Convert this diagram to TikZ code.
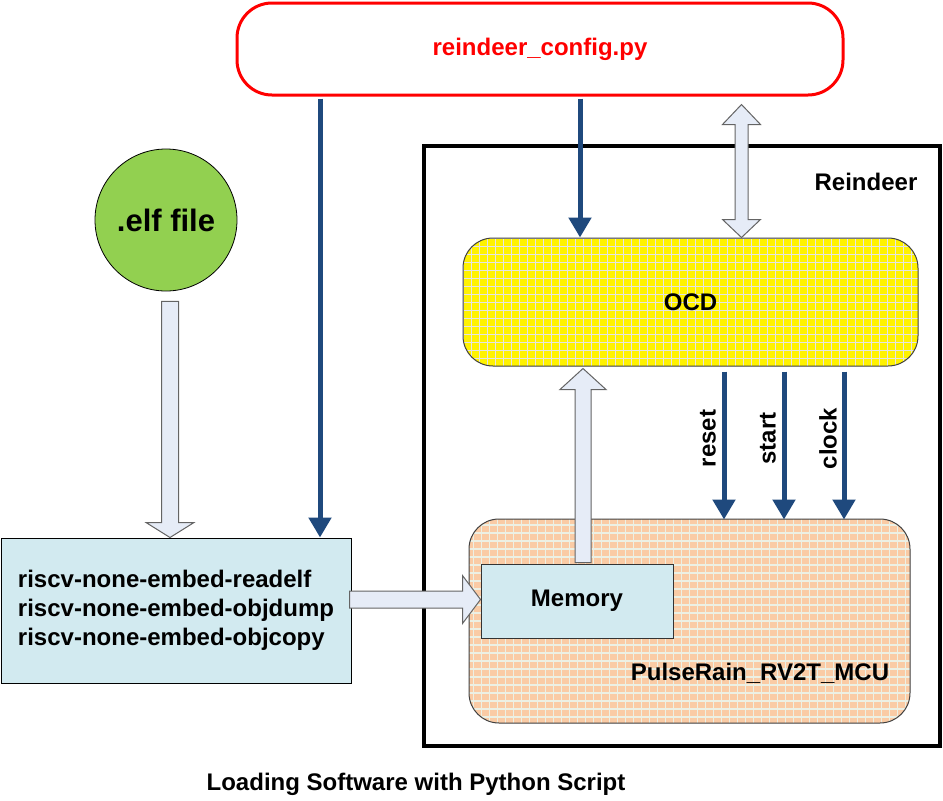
\documentclass[tikz,border=0pt]{standalone}
\usepackage{fontspec}
\setmainfont{Liberation Sans}
\usetikzlibrary{arrows.meta,calc}
\definecolor{darkblue}{RGB}{31,73,125}
\definecolor{toolblue}{RGB}{210,234,240}
\definecolor{elfgreen}{RGB}{146,208,80}
\definecolor{peach}{RGB}{250,203,165}
\definecolor{gridpeach}{RGB}{236,240,228}
\definecolor{gridyellow}{RGB}{228,228,228}
\definecolor{blockfill}{RGB}{230,236,247}
\definecolor{blockedge}{RGB}{100,100,100}
\begin{document}
\begin{tikzpicture}[x=1pt,y=-1pt,
  every node/.style={font=\fontsize{24}{29}\selectfont\bfseries, inner sep=0pt},
  gridbox/.style 2 args={draw=black!75, line width=1pt, rounded corners=30pt, fill=#1,
    path picture={\draw[#2, line width=1.3pt] (path picture bounding box.south west) grid[step=8pt] (path picture bounding box.north east);}},
  sig/.style={draw=darkblue, line width=5pt, -{Triangle[width=22pt,length=20pt]}},
  blk/.style={fill=blockfill, draw=blockedge, line width=1pt, line join=miter},
  siglabel/.style={rotate=90}
]
\useasboundingbox (0,0) rectangle (943,801);

% outer Reindeer box
\node[draw, line width=4pt, minimum width=516pt, minimum height=600pt] (rd) at (682,446) {};
\node (rdlabel) at (866,182) {Reindeer};

% config script
\node[draw=red, line width=3pt, rounded corners=35pt, minimum width=606pt, minimum height=92pt, text=red] (cfg) at (540,49) {reindeer\_config.py};

% OCD and MCU
\node[gridbox={yellow}{gridyellow}, minimum width=455pt, minimum height=128pt] (ocd) at (690.5,302) {OCD};
\node[gridbox={peach}{gridpeach}, minimum width=441pt, minimum height=204pt] (mcu) at (689.5,621) {};
\node (mculabel) at (760,673) {PulseRain\_RV2T\_MCU};
\node[draw=black!80, line width=1pt, fill=toolblue, minimum width=192pt, minimum height=74pt] (mem) at (577,601) {Memory};

% tools and elf
\node[draw, line width=1pt, fill=toolblue, minimum width=350pt, minimum height=145pt, align=left] (tools) at (176,610.5) {riscv-none-embed-readelf\\riscv-none-embed-objdump\\riscv-none-embed-objcopy};
\node[circle, draw, line width=0.8pt, fill=elfgreen, minimum size=142pt, font=\fontsize{31}{36}\selectfont\bfseries] (elf) at (166,220) {.elf file};

\node (caption) at (416,784) {Loading Software with Python Script};

% block arrow elf -> tools
\coordinate (b1s) at ($(elf.south)+(4,10)$);
\coordinate (b1e) at (b1s |- tools.north);
\draw[blk] ($(b1s)+(-8.5,0)$) -- ($(b1s)+(8.5,0)$) -- ($(b1e)+(8.5,-15)$) -- ($(b1e)+(24,-15)$) -- (b1e) -- ($(b1e)+(-24,-15)$) -- ($(b1e)+(-8.5,-15)$) -- cycle;

% block arrow tools -> memory
\coordinate (b2s) at ($(tools.east)+(-2,-11)$);
\coordinate (b2e) at (b2s -| mem.west);
\draw[blk] ($(b2s)+(0,-8.5)$) -- ($(b2e)+(-18,-8.5)$) -- ($(b2e)+(-18,-24)$) -- (b2e) -- ($(b2e)+(-18,24)$) -- ($(b2e)+(-18,8.5)$) -- ($(b2s)+(0,8.5)$) -- cycle;

% block arrow memory -> OCD
\coordinate (b3s) at ($(mem.north)+(6,-1)$);
\coordinate (b3e) at ($(b3s |- ocd.south)+(0,2)$);
\draw[blk] ($(b3s)+(-8,0)$) -- ($(b3e)+(-8,21)$) -- ($(b3e)+(-23,21)$) -- (b3e) -- ($(b3e)+(23,21)$) -- ($(b3e)+(8,21)$) -- ($(b3s)+(8,0)$) -- cycle;

% double block arrow cfg <-> OCD
\coordinate (b4t) at ($(cfg.south)+(201.5,8)$);
\coordinate (b4b) at (b4t |- ocd.north);
\draw[blk] (b4t) -- ($(b4t)+(19,20)$) -- ($(b4t)+(6.5,20)$) -- ($(b4b)+(6.5,-18)$) -- ($(b4b)+(19,-18)$) -- (b4b) -- ($(b4b)+(-19,-18)$) -- ($(b4b)+(-6.5,-18)$) -- ($(b4t)+(-6.5,20)$) -- ($(b4t)+(-19,20)$) -- cycle;

% blue signal arrows
\coordinate (a1s) at ($(cfg.south)+(-220,2)$);
\draw[sig] (a1s) -- (a1s |- tools.north);
\coordinate (a2s) at ($(cfg.south)+(40,2)$);
\draw[sig] (a2s) -- (a2s |- ocd.north);

\foreach \dx/\lab in {33.5/reset, 93.5/start, 153.5/clock}{
  \coordinate (s\lab) at ($(ocd.south)+(\dx,5)$);
  \draw[sig] (s\lab) -- ($(s\lab |- mcu.north)+(0,1)$);
  \node[siglabel] (l\lab) at ($(s\lab)+(-16,67)$) {\lab};
}
\end{tikzpicture}
\end{document}
